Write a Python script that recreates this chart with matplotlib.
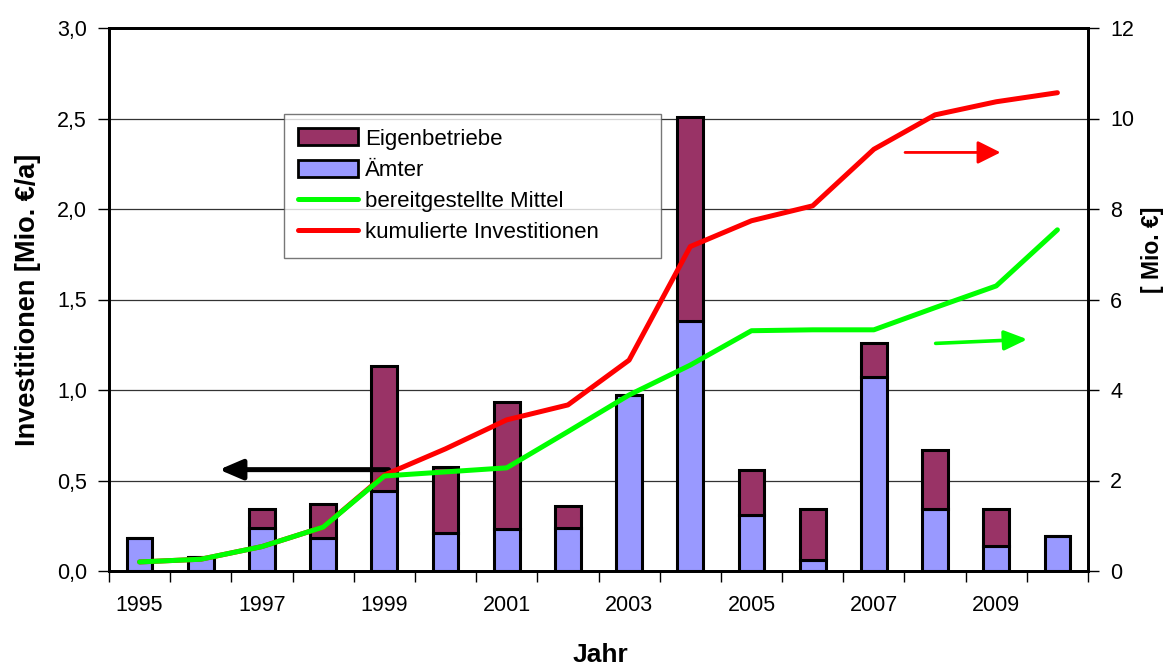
import numpy as np
import matplotlib
matplotlib.use("Agg")
import matplotlib.pyplot as plt
from matplotlib.patches import Patch
from matplotlib.lines import Line2D

plt.rcParams["font.family"] = ["Liberation Sans", "DejaVu Sans"]

# data
years = [1995, 1996, 1997, 1998, 1999, 2000, 2001, 2002,
         2003, 2004, 2005, 2006, 2007, 2008, 2009, 2010]
aemter = [0.18, 0.08, 0.24, 0.18, 0.44, 0.21, 0.23, 0.24,
          0.97, 1.38, 0.31, 0.06, 1.07, 0.34, 0.14, 0.195]
eigenbetriebe = [0.0, 0.0, 0.10, 0.19, 0.69, 0.365, 0.705, 0.12,
                 0.0, 1.13, 0.25, 0.28, 0.19, 0.33, 0.20, 0.0]
bereitgestellt = [0.2, 0.26, 0.54, 0.97, 2.1, 2.19, 2.28, 3.08,
                  3.89, 4.55, 5.31, 5.33, 5.33, 5.82, 6.3, 7.54]
kumuliert = [0.2, 0.26, 0.54, 0.97, 2.12, 2.7, 3.34, 3.67,
             4.66, 7.17, 7.74, 8.07, 9.32, 10.08, 10.37, 10.57]

col_eigen = "#993366"
col_aemter = "#9999FF"
col_green = "#00FF00"
col_red = "#FF0000"

x = np.arange(len(years))

fig = plt.figure(figsize=(11.66, 6.66), dpi=100)
ax = fig.add_axes([109/1166, 1-571/666, (1088-109)/1166, (571-28)/666])

# gridlines
ax.set_axisbelow(True)
ax.yaxis.grid(True, color="#333333", linewidth=0.9)

# stacked bars
ax.bar(x, aemter, width=0.42, color=col_aemter, edgecolor="black", linewidth=2.2, zorder=2)
ax.bar(x, eigenbetriebe, width=0.42, bottom=aemter, color=col_eigen,
       edgecolor="black", linewidth=2.2, zorder=2)

ax.set_xlim(-0.5, len(years) - 0.5)
ax.set_ylim(0, 3.0)
ax.set_yticks(np.arange(0, 3.01, 0.5))
ax.set_yticklabels([f"{v:.1f}".replace(".", ",") for v in np.arange(0, 3.01, 0.5)])

# ticks between categories, labels under every second category
ax.set_xticks(np.arange(-0.5, len(years), 1))
ax.set_xticklabels([])
ax.set_xticks(x[::2], minor=True)
ax.set_xticklabels([str(y) for y in years[::2]], minor=True)
ax.tick_params(axis="x", which="major", direction="out", length=8, width=1)
ax.tick_params(axis="x", which="minor", length=0, pad=17, labelsize=15.5)
ax.tick_params(axis="y", direction="out", length=8, width=1, pad=8, labelsize=15.5)

for s in ax.spines.values():
    s.set_linewidth(2)

# right axis with lines
ax2 = ax.twinx()
ax2.set_ylim(0, 12)
ax2.set_yticks(np.arange(0, 13, 2))
ax2.tick_params(axis="y", direction="out", length=8, width=1, pad=8, labelsize=15.5)
ax2.plot(x, kumuliert, color=col_red, linewidth=3.6, solid_capstyle="round", zorder=3)
ax2.plot(x, bereitgestellt, color=col_green, linewidth=3.6, solid_capstyle="round", zorder=4)
for s in ax2.spines.values():
    s.set_linewidth(2)

# arrows pointing to the matching axis
ax.annotate("", xy=(1.3, 0.56), xytext=(4.07, 0.56),
            arrowprops=dict(arrowstyle="-|>,head_length=1.4,head_width=0.6",
                            color="black", lw=3.6, shrinkA=0, shrinkB=0))
ax2.annotate("", xy=(14.07, 9.25), xytext=(12.51, 9.25),
             arrowprops=dict(arrowstyle="-|>,head_length=1.4,head_width=0.7",
                             color=col_red, lw=2, shrinkA=0, shrinkB=0))
ax2.annotate("", xy=(14.51, 5.12), xytext=(13.01, 5.03),
             arrowprops=dict(arrowstyle="-|>,head_length=1.4,head_width=0.6",
                             color=col_green, lw=2.6, shrinkA=0, shrinkB=0))

# legend
handles = [Patch(facecolor=col_eigen, edgecolor="black", linewidth=2),
           Patch(facecolor=col_aemter, edgecolor="black", linewidth=2),
           Line2D([], [], color=col_green, linewidth=3.6, solid_capstyle="round"),
           Line2D([], [], color=col_red, linewidth=3.6, solid_capstyle="round")]
labels = ["Eigenbetriebe", "Ämter", "bereitgestellte Mittel", "kumulierte Investitionen"]
leg = ax2.legend(handles, labels, loc="upper left", mode="expand",
                 bbox_to_anchor=(284/1166, 1-254/666, (661-284)/1166, 140/666),
                 bbox_transform=fig.transFigure,
                 fontsize=16, frameon=True, fancybox=False, edgecolor="#555555",
                 handlelength=2.7, handleheight=0.8, handletextpad=0.3,
                 labelspacing=0.45, borderpad=0.65, borderaxespad=0)
leg.get_frame().set_linewidth(1)

# axis titles
fig.text(28/1166, 1-300/666, "Investitionen [Mio. €/a]", rotation=90,
         ha="center", va="center", fontsize=19.5, fontweight="bold")
fig.text(1152/1166, 1-250/666, "[ Mio. €]", rotation=90,
         ha="center", va="center", fontsize=16.5, fontweight="bold")
fig.text(600/1166, 1-655/666, "Jahr", ha="center", va="center",
         fontsize=19, fontweight="bold")

fig.savefig("out.png", dpi=100)
